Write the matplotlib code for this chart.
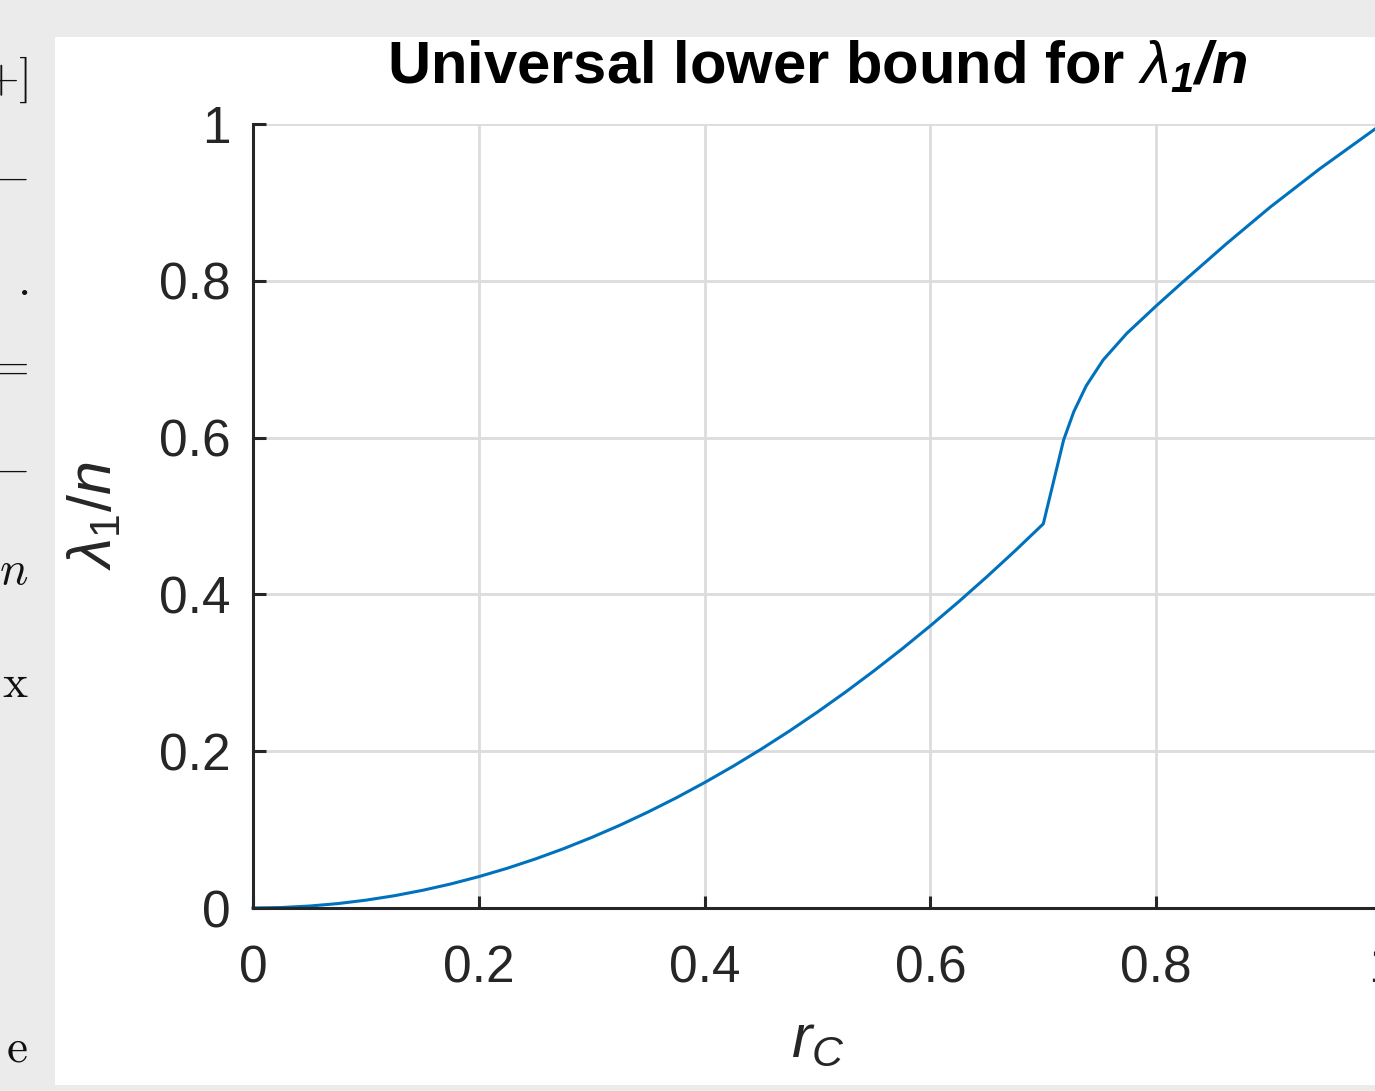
import matplotlib
matplotlib.use('Agg')
import matplotlib.pyplot as plt
from matplotlib.patches import Rectangle

# curve
rc_vals  = [0.0, 0.025, 0.05, 0.075, 0.1, 0.125, 0.15, 0.175, 0.2, 0.225, 0.25, 0.275, 0.3, 0.325,
            0.35, 0.375, 0.4, 0.425, 0.45, 0.475, 0.5, 0.525, 0.55, 0.575, 0.6, 0.625, 0.65, 0.675, 0.7,
            0.718, 0.727, 0.738, 0.753, 0.774, 0.8, 0.824, 0.862, 0.901, 0.945, 1.0]
lam_vals = [0.0, 0.0006, 0.0025, 0.0056, 0.01, 0.0156, 0.0225, 0.0306, 0.04, 0.0506, 0.0625, 0.0756, 0.09, 0.1056,
            0.1225, 0.1406, 0.16, 0.1806, 0.2025, 0.2256, 0.25, 0.2756, 0.3025, 0.3306, 0.36, 0.3906, 0.4225, 0.4556, 0.49,
            0.597, 0.633, 0.666, 0.699, 0.733, 0.768, 0.799, 0.847, 0.894, 0.943, 1.0]

xticks = [0, 0.2, 0.4, 0.6, 0.8, 1]
yticks = [0, 0.2, 0.4, 0.6, 0.8, 1]
xtick_labels = ['0', '0.2', '0.4', '0.6', '0.8', '1']
ytick_labels = ['0', '0.2', '0.4', '0.6', '0.8', '1']

# bits of the page behind the figure window
margin_glyphs = [(80, r'$+]$'), (178, r'$-$'), (283, r'$.$'), (368, r'$=$'),
                 (470, r'$-$'), (572, r'$n$'), (685, r'$\mathrm{x}$'), (1050, r'$\mathrm{e}$')]

plt.rcParams['font.family'] = ['Liberation Sans', 'DejaVu Sans']
plt.rcParams['mathtext.fontset'] = 'custom'
plt.rcParams['mathtext.rm'] = 'Liberation Sans'
plt.rcParams['mathtext.it'] = 'Liberation Sans:italic'
plt.rcParams['mathtext.bf'] = 'Liberation Sans:bold'
plt.rcParams['mathtext.bfit'] = 'Liberation Sans:italic:bold'

W, H = 1375, 1091
fig = plt.figure(figsize=(W / 100, H / 100), dpi=100)
fig.patch.set_facecolor('#ebebeb')

def fx(px):
    return px / W

def fy(py):
    return 1 - py / H

# white figure window
fig.patches.append(Rectangle((fx(55), fy(1085)), fx(1375) - fx(55), fy(37) - fy(1085),
                             transform=fig.transFigure, facecolor='white', edgecolor='none', zorder=-1))

for py, s in margin_glyphs:
    fig.text(fx(28), fy(py), s, ha='right', va='center', fontsize=34, math_fontfamily='cm', color='#111111')

ax = fig.add_axes([fx(253), fy(908), fx(1382) - fx(253), fy(124) - fy(908)])
ax.set_facecolor('white')
ax.plot(rc_vals, lam_vals, color='#0072bd', lw=2.2, clip_on=False)

ax.set_xlim(0, 1)
ax.set_ylim(0, 1)
ax.set_xticks(xticks)
ax.set_xticklabels(xtick_labels)
ax.set_yticks(yticks)
ax.set_yticklabels(ytick_labels)
ax.grid(True, color='#dcdcdc', lw=2)
ax.set_axisbelow(True)
for s in ['top', 'right']:
    ax.spines[s].set_visible(False)
for s in ['left', 'bottom']:
    ax.spines[s].set_color('#262626')
    ax.spines[s].set_linewidth(2.2)
ax.tick_params(direction='in', length=9, width=2.2, color='#262626', labelcolor='#262626',
               labelsize=37)
ax.tick_params(axis='x', pad=26)
ax.tick_params(axis='y', pad=16)

ax.set_title(r'Universal lower bound for $\lambda_{\mathbfit{1}}\mathbfit{/n}$', fontsize=43,
             fontweight='bold', pad=29, color='black')
ax.set_xlabel(r'$r_{C}$', fontsize=44, color='#262626', labelpad=14)
ax.set_ylabel(r'$\lambda_{1}/n$', fontsize=44, color='#262626', labelpad=25)

fig.savefig('out.png', dpi=100, facecolor=fig.get_facecolor())
